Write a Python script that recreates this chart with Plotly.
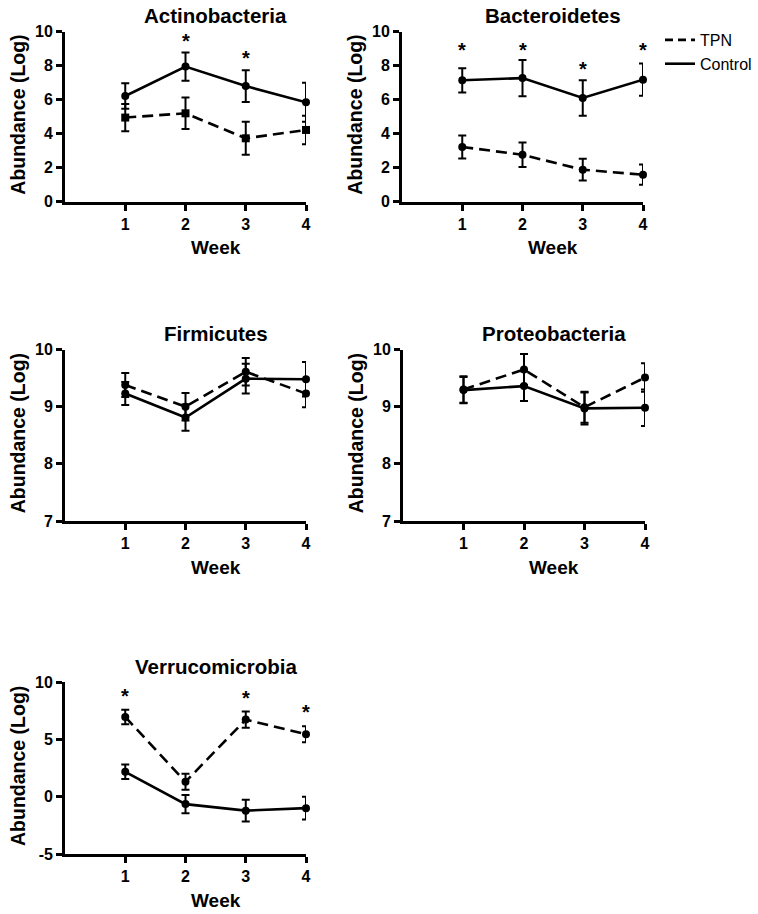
import plotly.graph_objects as go

weeks = [1, 2, 3, 4]

panels = ["Actinobacteria", "Bacteroidetes", "Firmicutes", "Proteobacteria", "Verrucomicrobia"]

actino_tpn = [4.95, 5.2, 3.73, 4.22]
actino_tpn_err = [0.8, 0.93, 0.97, 0.84]
actino_ctrl = [6.22, 7.95, 6.8, 5.85]
actino_ctrl_err = [0.75, 0.83, 0.93, 1.15]

bact_tpn = [3.22, 2.76, 1.88, 1.59]
bact_tpn_err = [0.68, 0.72, 0.64, 0.6]
bact_ctrl = [7.14, 7.27, 6.1, 7.18]
bact_ctrl_err = [0.71, 1.06, 1.05, 0.95]

firm_tpn = [9.38, 9.0, 9.61, 9.23]
firm_tpn_err = [0.21, 0.24, 0.24, 0.24]
firm_ctrl = [9.23, 8.81, 9.49, 9.48]
firm_ctrl_err = [0.2, 0.23, 0.26, 0.3]

prot_tpn = [9.3, 9.65, 8.99, 9.51]
prot_tpn_err = [0.23, 0.27, 0.27, 0.25]
prot_ctrl = [9.29, 9.36, 8.97, 8.98]
prot_ctrl_err = [0.23, 0.26, 0.28, 0.32]

verr_tpn = [6.95, 1.3, 6.72, 5.45]
verr_tpn_err = [0.64, 0.7, 0.7, 0.7]
verr_ctrl = [2.17, -0.65, -1.22, -1.0]
verr_ctrl_err = [0.64, 0.8, 0.95, 1.0]

# significance stars: (week, y)
actino_star_x = [2, 3]
actino_star_y = [9.67, 8.67]
bact_star_x = [1, 2, 3, 4]
bact_star_y = [9.16, 9.16, 8.04, 9.16]
verr_star_x = [1, 3, 4]
verr_star_y = [9.13, 8.93, 7.74]

y_ranges = [[0, 10], [0, 10], [7, 10], [7, 10], [-5, 10]]
y_ticks = [[0, 2, 4, 6, 8, 10], [0, 2, 4, 6, 8, 10], [7, 8, 9, 10], [7, 8, 9, 10], [-5, 0, 5, 10]]

W, H = 758, 914


def px(xp):
    return xp / W


def py(yp):
    return 1 - yp / H


# pixel boxes in window coords (left, right, top, bottom)
boxes = [
    (65, 306, 31.7, 201.7),
    (402, 643, 31.7, 201.7),
    (65, 306, 349.5, 521),
    (403, 645, 349.5, 521),
    (65, 306, 682, 854),
]

series = [
    (actino_tpn, actino_tpn_err, actino_ctrl, actino_ctrl_err, "square"),
    (bact_tpn, bact_tpn_err, bact_ctrl, bact_ctrl_err, "circle"),
    (firm_tpn, firm_tpn_err, firm_ctrl, firm_ctrl_err, "circle"),
    (prot_tpn, prot_tpn_err, prot_ctrl, prot_ctrl_err, "circle"),
    (verr_tpn, verr_tpn_err, verr_ctrl, verr_ctrl_err, "circle"),
]
stars = [(actino_star_x, actino_star_y), (bact_star_x, bact_star_y), None, None,
         (verr_star_x, verr_star_y)]

FONT = "Liberation Sans, Arial, Helvetica, sans-serif"
fig = go.Figure()
layout = dict(width=W, height=H, margin=dict(l=0, r=0, t=0, b=0, autoexpand=False),
              paper_bgcolor="white", plot_bgcolor="white",
              font=dict(family=FONT, color="black"))
annotations = []

for i, (tpn, tpn_e, ctrl, ctrl_e, tsym) in enumerate(series):
    n = i + 1
    xa = "x" if n == 1 else f"x{n}"
    ya = "y" if n == 1 else f"y{n}"
    for vals, errs, dash, sym in [(tpn, tpn_e, "11px,6px", tsym), (ctrl, ctrl_e, "solid", "circle")]:
        fig.add_trace(go.Scatter(
            x=weeks, y=vals, xaxis=xa, yaxis=ya, mode="lines+markers",
            line=dict(color="black", width=2.6, dash=dash),
            marker=dict(symbol=sym, size=8, color="black"),
            error_y=dict(type="data", array=errs, visible=True, color="black",
                         thickness=2, width=4),
            cliponaxis=False, showlegend=False, hoverinfo="skip"))
    l, r, t, b = boxes[i]
    dom_x = [px(l), px(r)]
    dom_y = [py(b), py(t)]
    axis_common = dict(showline=True, linecolor="black", linewidth=2.8, showgrid=False,
                       zeroline=False, ticks="outside", ticklen=6, tickwidth=2.8,
                       tickcolor="black", automargin=False,
                       tickfont=dict(family=FONT, size=16, color="black"))
    layout["xaxis" if n == 1 else f"xaxis{n}"] = dict(
        domain=dom_x, range=[0, 4], tickvals=weeks,
        ticktext=[f"<b>{w}</b>" for w in weeks], anchor=ya, **axis_common)
    layout["yaxis" if n == 1 else f"yaxis{n}"] = dict(
        domain=dom_y, range=y_ranges[i], tickvals=y_ticks[i],
        ticktext=[f"<b>{v}</b>" for v in y_ticks[i]], anchor=xa, **axis_common)
    title_x = l + (r - l) * 2.5 / 4
    annotations.append(dict(text=f"<b>{panels[i]}</b>", x=px(title_x), y=py(t - 16),
                            xref="paper", yref="paper", showarrow=False,
                            font=dict(size=20.5, family=FONT), xanchor="center", yanchor="middle"))
    annotations.append(dict(text="<b>Week</b>", x=px(title_x), y=py(b + 46),
                            xref="paper", yref="paper", showarrow=False,
                            font=dict(size=19, family=FONT), xanchor="center", yanchor="middle"))
    annotations.append(dict(text="<b>Abundance (Log)</b>", x=px(l - 47), y=py((t + b) / 2 - 2),
                            xref="paper", yref="paper", showarrow=False, textangle=-90,
                            font=dict(size=19.5, family=FONT), xanchor="center", yanchor="middle"))
    if stars[i] is not None:
        sx, sy = stars[i]
        for xv, yv in zip(sx, sy):
            annotations.append(dict(text="<b>*</b>", x=xv, y=yv, xref=xa, yref=ya,
                                    showarrow=False, font=dict(size=20, family=FONT),
                                    xanchor="center", yanchor="middle", yshift=-4))

# legend-only traces
fig.add_trace(go.Scatter(x=[None], y=[None], mode="lines", name="TPN",
                         line=dict(color="black", width=2.6, dash="8px,5px"), showlegend=True))
fig.add_trace(go.Scatter(x=[None], y=[None], mode="lines", name="Control",
                         line=dict(color="black", width=2.6), showlegend=True))

layout["annotations"] = annotations
layout["legend"] = dict(x=px(660), y=py(23), xanchor="left", yanchor="top",
                        font=dict(size=16, family=FONT, color="black"),
                        bgcolor="rgba(0,0,0,0)", itemwidth=30, tracegroupgap=0)
layout["showlegend"] = True
fig.update_layout(**layout)
fig.write_html("out.html", config={"displayModeBar": False},
               post_script="document.body.style.margin='0';document.body.style.overflow='hidden';")
